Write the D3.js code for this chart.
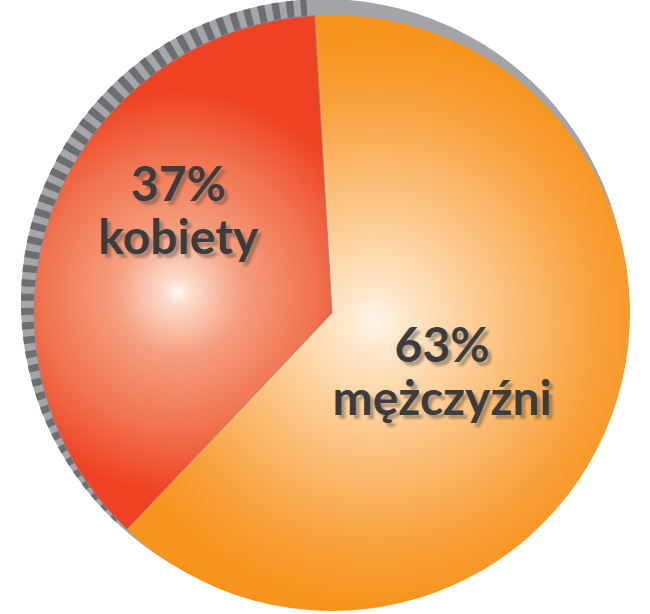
<html>
  <head>
    <meta charset="utf-8" />
    <script src="https://d3js.org/d3.v7.min.js"></script>
    <style>
      body {
        margin: 0;
        background: #fff;
      }
      .lbl {
        font-family: Lato, "Open Sans", sans-serif;
        font-weight: 700;
        font-size: 48px;
      }
    </style>
  </head>
  <body>
    <svg id="chart" width="650" height="614"></svg>
    <script>
      // slice data, clockwise from just left of 12 o'clock
      var labels = ["mężczyźni", "kobiety"];
      var values = [63, 37];
      var pctText = ["63%", "37%"];

      var colors = ["#f7941d", "#ef4123"];

      var svg = d3.select("#chart"),
        cx = 332,
        cy = 313,
        radius = 298;

      var startAng = -0.058;
      var pie = d3
        .pie()
        .sort(null)
        .value((d) => d)
        .startAngle(startAng)
        .endAngle(startAng + 2 * Math.PI);
      var arcs = pie(values);

      var defs = svg.append("defs");

      // radial highlight per slice (page coords, shifted into the pie group)
      var gradSpec = [
        {
          c: [375, 322, 300],
          stops: [
            [0, "#fff6ec"],
            [0.1, "#fee7cb"],
            [0.4, "#fcc586"],
            [0.75, "#f8a03a"],
            [0.95, colors[0]],
          ],
        },
        {
          c: [178, 292, 230],
          stops: [
            [0, "#fffaf6"],
            [0.06, "#fcdccc"],
            [0.28, "#f59d7e"],
            [0.58, "#f17551"],
            [0.88, colors[1]],
          ],
        },
      ];
      gradSpec.forEach(function (s, i) {
        var g = defs
          .append("radialGradient")
          .attr("id", "grad" + i)
          .attr("gradientUnits", "userSpaceOnUse")
          .attr("cx", s.c[0] - cx)
          .attr("cy", s.c[1] - cy)
          .attr("r", s.c[2]);
        s.stops.forEach(function (st) {
          g.append("stop").attr("offset", st[0]).attr("stop-color", st[1]);
        });
      });

      var f = defs.append("filter").attr("id", "soft");
      f.append("feGaussianBlur").attr("stdDeviation", 1.2);

      // back disc (the rim), shifted up-left
      var back = svg
        .append("g")
        .attr("transform", "translate(" + (cx - 8) + "," + (cy - 11) + ")");
      var backArc = d3.arc().innerRadius(0).outerRadius(radius + 5);

      back
        .append("path")
        .attr("d", backArc(arcs[0]))
        .attr("fill", "#a2a4a7");
      back
        .append("path")
        .attr("d", backArc(arcs[1]))
        .attr("fill", "#a4a6a9");

      // dark stripes across the women's rim
      var step = 0.048;
      var stripes = d3.range(arcs[1].startAngle, arcs[1].endAngle, step);
      back
        .selectAll("path.stripe")
        .data(stripes)
        .enter()
        .append("path")
        .attr("class", "stripe")
        .attr("fill", "#6d6e71")
        .attr("d", (a) =>
          backArc({ startAngle: a, endAngle: Math.min(a + step / 2, arcs[1].endAngle) })
        );

      // front face
      var front = svg
        .append("g")
        .attr("transform", "translate(" + cx + "," + cy + ")");
      var arc = d3.arc().innerRadius(0).outerRadius(radius);

      front
        .selectAll("path.slice")
        .data(arcs)
        .enter()
        .append("path")
        .attr("class", "slice")
        .attr("d", arc)
        .attr("fill", (d, i) => "url(#grad" + i + ")");

      // thin grey seam between the slices
      front
        .append("path")
        .attr("d", arc(arcs[1]))
        .attr("fill", "none")
        .attr("stroke", "#8c8e90")
        .attr("stroke-width", 0.8);

      // labels
      var labelArc = d3.arc();
      var labelR = [130, 170];
      var labelShift = [
        [-12, 12],
        [6, -46],
      ];

      var lab = front
        .selectAll("g.lab")
        .data(arcs)
        .enter()
        .append("g")
        .attr("class", "lab")
        .attr("transform", function (d, i) {
          var c = labelArc.innerRadius(labelR[i]).outerRadius(labelR[i]).centroid(d);
          return (
            "translate(" + (c[0] + labelShift[i][0]) + "," + (c[1] + labelShift[i][1]) + ")"
          );
        });

      function addText(g, dx, dy, fill, filt) {
        var t = g
          .append("text")
          .attr("class", "lbl")
          .attr("text-anchor", "middle")
          .attr("fill", fill)
          .attr("transform", "translate(" + dx + "," + dy + ")");
        if (filt) t.attr("filter", filt);
        t.append("tspan")
          .attr("x", 0)
          .attr("y", -8)
          .text((d) => pctText[d.index]);
        t.append("tspan")
          .attr("x", 0)
          .attr("y", 45)
          .text((d) => labels[d.index]);
      }
      addText(lab, 4, 4, "rgba(90,80,70,0.45)", "url(#soft)");
      addText(lab, 0, 0, "#3b3c3e");
    </script>
  </body>
</html>
